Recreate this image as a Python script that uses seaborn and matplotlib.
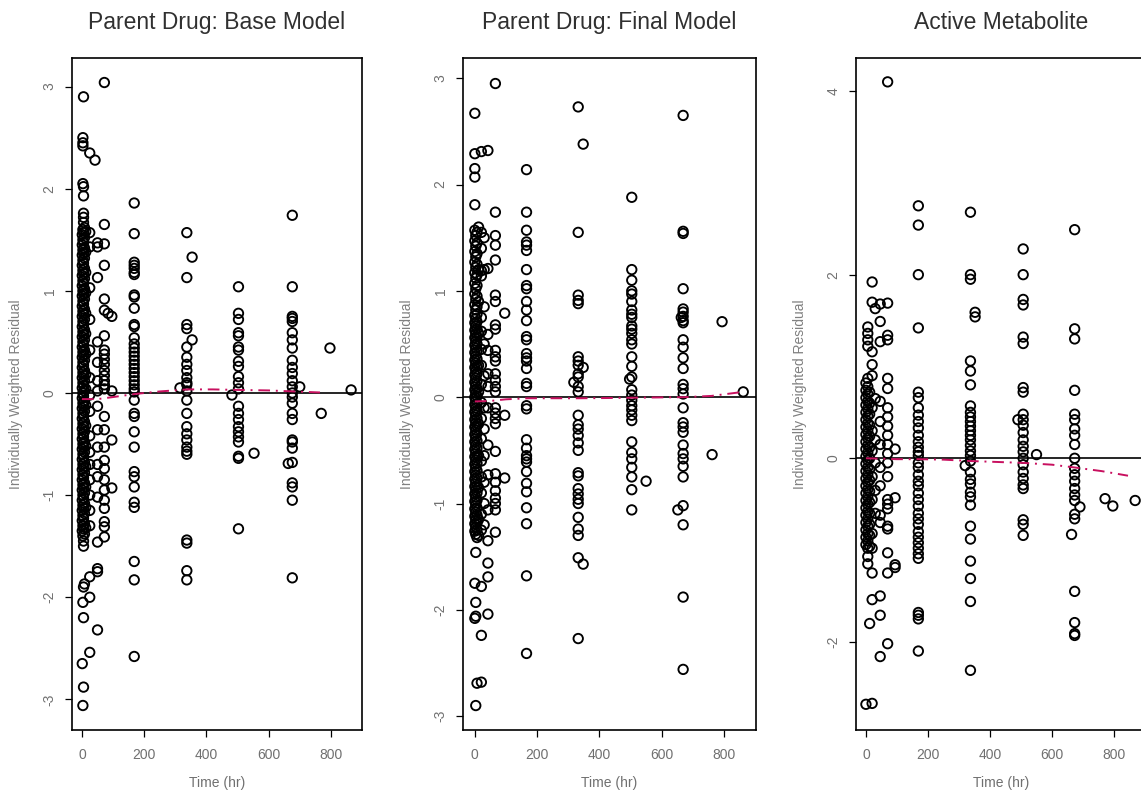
import pandas as pd
import matplotlib
matplotlib.use("Agg")
import matplotlib.pyplot as plt
import seaborn as sns

# columns of points: (time in hr, residuals)
base_cols = [
    (1, [1.55, 1.45, 1.35, 1.25, 1.15, 1.05, 0.95, 0.85, 0.75, 0.65, 0.55, 0.45, 0.35, 0.25, 0.15, 0.05,
         -0.05, -0.15, -0.25, -0.35, -0.45, -0.55, -0.65, -0.75, -0.85, -0.95, -1.05, -1.15, -1.25, -1.35, -2.65]),
    (3, [2.50, 2.45, 2.42, 2.05, 1.6, 1.5, 1.4, 1.3, 1.2, 1.1, 1.0, 0.9, 0.8, 0.7, 0.6, 0.5, 0.4, 0.3, 0.2, 0.1, 0.0,
         -0.1, -0.2, -0.3, -0.4, -0.5, -0.6, -0.7, -0.8, -0.9, -1.0, -1.1, -1.2, -1.3, -1.4, -2.05, -3.06]),
    (5, [2.90, 2.02, 1.93, 1.76, 1.72, 1.67, 1.57, 1.47, 1.37, 1.27, 1.17, 1.07, 0.97, 0.87, 0.77, 0.67, 0.57, 0.47,
         0.37, 0.27, 0.17, 0.07, -0.03, -0.13, -0.23, -0.33, -0.43, -0.53, -0.63, -0.73, -0.83, -0.93, -1.03, -1.13,
         -1.23, -1.33, -1.45, -1.5, -1.9, -2.2, -2.88]),
    (8, [1.62, 1.52, 1.42, 1.32, 1.22, 1.12, 1.02, 0.92, 0.82, 0.72, 0.62, 0.52, 0.42, 0.32, 0.22, 0.12, 0.02,
         -0.08, -0.18, -0.28, -0.38, -0.48, -0.58, -0.68, -0.78, -0.88, -0.98, -1.08, -1.18, -1.28, -1.38, -1.87]),
    (12, [1.58, 1.38, 1.18, 0.98, 0.78, 0.58, 0.38, 0.18, 0.04, -0.12, -0.32, -0.52, -0.72, -0.92, -1.12, -1.32]),
    (25, [2.35, 1.57, 1.43, 1.03, 0.72, 0.42, 0.15, -0.02, -0.18, -0.42, -0.58, -0.7, -0.85, -1.0, -1.15, -1.3,
          -1.8, -2.0, -2.54]),
    (42, [2.28]),
    (50, [1.47, 1.43, 1.13, 0.5, 0.3, 0.12, 0.02, -0.13, -0.36, -0.53, -0.7, -0.82, -1.02, -1.46, -1.72, -1.75, -2.32]),
    (72, [3.04, 1.65, 1.46, 1.25, 0.92, 0.81, 0.56, 0.42, 0.38, 0.33, 0.28, 0.22, 0.17, 0.12, 0.08, 0.04,
          -0.23, -0.36, -0.53, -0.66, -0.74, -0.85, -0.95, -1.05, -1.13, -1.26, -1.31, -1.41]),
    (84, [0.78]),
    (96, [0.75, 0.02, -0.46, -0.93]),
    (168, [1.86, 1.56, 1.28, 1.25, 1.22, 1.18, 1.16, 0.96, 0.94, 0.83, 0.67, 0.65, 0.54, 0.48, 0.44, 0.40, 0.36,
           0.32, 0.28, 0.24, 0.20, 0.16, 0.12, 0.08, 0.04, 0.01, -0.07, -0.2, -0.23, -0.38, -0.53, -0.77, -0.82,
           -0.92, -1.07, -1.12, -1.65, -1.83, -2.58]),
    (315, [0.05]),
    (337, [1.57, 1.13, 0.67, 0.63, 0.45, 0.35, 0.28, 0.22, 0.15, 0.1, 0.08, 0.02, -0.07, -0.2, -0.33, -0.4, -0.46,
           -0.53, -0.57, -0.6, -1.44, -1.47, -1.74, -1.83]),
    (354, [1.33, 0.52]),
    (482, [-0.02]),
    (503, [1.04, 0.78, 0.72, 0.59, 0.56, 0.45, 0.42, 0.31, 0.26, 0.16, 0.1, 0.04, -0.13, -0.2, -0.26, -0.33, -0.38,
           -0.43, -0.48, -0.62, -0.64, -1.33]),
    (553, [-0.59]),
    (663, [-0.69]),
    (676, [1.74, 1.04, 0.75, 0.73, 0.7, 0.59, 0.52, 0.44, 0.32, 0.25, 0.19, 0.12, 0.06, 0.0, -0.04, -0.1, -0.2,
           -0.26, -0.46, -0.48, -0.54, -0.68, -0.88, -0.92, -1.05, -1.81]),
    (700, [0.06]),
    (769, [-0.2]),
    (797, [0.44]),
    (865, [0.03]),
]

final_cols = [
    (0, [2.67, 2.29, 2.15, 2.07, 1.81, 1.57, 1.47, 1.37, 1.27, 1.17, 1.07, 0.97, 0.87, 0.77, 0.7, 0.63, 0.56, 0.49,
         0.42, 0.35, 0.28, 0.21, 0.14, 0.07, 0.0, -0.07, -0.14, -0.21, -0.28, -0.35, -0.42, -0.49, -0.56, -0.63,
         -0.7, -0.77, -0.84, -0.91, -0.98, -1.05, -1.12, -1.19, -1.26, -1.75, -2.08]),
    (3, [1.52, 1.42, 1.32, 1.22, 1.12, 1.02, 0.92, 0.82, 0.74, 0.67, 0.6, 0.53, 0.46, 0.39, 0.32, 0.25, 0.18, 0.11,
         0.04, -0.03, -0.1, -0.17, -0.24, -0.31, -0.38, -0.45, -0.52, -0.59, -0.66, -0.73, -0.8, -0.87, -0.94,
         -1.01, -1.08, -1.15, -1.22, -1.29, -1.46, -1.93, -2.06, -2.9]),
    (7, [1.55, 1.45, 1.35, 1.25, 1.15, 1.05, 0.95, 0.85, 0.78, 0.71, 0.64, 0.57, 0.5, 0.43, 0.36, 0.29, 0.22, 0.15,
         0.08, 0.01, -0.06, -0.13, -0.2, -0.27, -0.34, -0.41, -0.48, -0.55, -0.62, -0.69, -0.76, -0.83, -0.9,
         -0.97, -1.04, -1.11, -1.18, -1.25, -1.32, -2.69]),
    (12, [1.6, 1.2, 0.9, 0.6, 0.3, 0.05, -0.25, -0.55, -0.85, -1.15, -1.3]),
    (21, [2.31, 1.55, 1.4, 1.19, 1.14, 0.75, 0.62, 0.45, 0.3, 0.12, -0.05, -0.2, -0.39, -0.6, -0.75, -0.9, -1.1,
          -1.25, -1.78, -2.24, -2.68]),
    (30, [1.5, 1.2, 0.85, 0.5, 0.2, -0.1, -0.3, -0.55, -0.8, -1.0, -1.2]),
    (42, [2.32, 1.21, 0.59, 0.44, 0.22, 0.1, -0.1, -0.45, -0.73, -1.06, -1.35, -1.56, -1.69, -2.04]),
    (66, [2.95, 1.74, 1.52, 1.43, 1.29, 0.96, 0.9, 0.68, 0.64, 0.44, 0.38, 0.34, 0.22, 0.16, 0.1, 0.05, -0.1,
          -0.15, -0.2, -0.25, -0.51, -0.72, -0.8, -0.88, -0.95, -1.0, -1.06, -1.27]),
    (96, [0.79, -0.17, -0.76]),
    (166, [2.14, 1.74, 1.57, 1.46, 1.43, 1.38, 1.2, 1.05, 1.02, 0.9, 0.82, 0.72, 0.57, 0.54, 0.41, 0.37, 0.34,
           0.27, 0.13, 0.1, -0.08, -0.11, -0.4, -0.48, -0.55, -0.58, -0.61, -0.7, -0.81, -0.89, -1.04, -1.19,
           -1.68, -2.41]),
    (318, [0.14]),
    (332, [2.73, 1.55, 0.96, 0.91, 0.88, 0.38, 0.34, 0.3, 0.22, 0.19, 0.1, 0.05, -0.17, -0.26, -0.3, -0.36, -0.43,
           -0.5, -0.71, -0.74, -0.86, -0.91, -0.96, -1.0, -1.13, -1.24, -1.3, -1.51, -2.27]),
    (348, [2.38, 0.28, -1.57]),
    (497, [0.17]),
    (504, [1.88, 1.2, 1.1, 1.0, 0.97, 0.9, 0.82, 0.78, 0.75, 0.67, 0.64, 0.6, 0.54, 0.5, 0.38, 0.29, 0.19, 0.07,
           0.02, -0.03, -0.08, -0.12, -0.17, -0.22, -0.42, -0.52, -0.58, -0.66, -0.75, -0.87, -1.06]),
    (550, [-0.79]),
    (652, [-1.06]),
    (663, [0.75]),
    (669, [2.65, 1.56, 1.54, 1.02, 0.83, 0.8, 0.76, 0.72, 0.7, 0.54, 0.47, 0.37, 0.27, 0.12, 0.08, 0.03, -0.1,
           -0.24, -0.28, -0.33, -0.45, -0.53, -0.58, -0.65, -0.75, -1.02, -1.2, -1.88, -2.56]),
    (762, [-0.54]),
    (794, [0.71]),
    (862, [0.05]),
]

metab_cols = [
    (0, [0.82, 0.74, 0.66, 0.58, 0.5, 0.42, 0.34, 0.26, 0.18, 0.1, 0.02, -0.06, -0.14, -0.22, -0.3, -0.38, -0.46,
         -0.54, -0.62, -0.7, -0.78, -0.86, -0.94, -2.68]),
    (6, [1.43, 1.36, 1.29, 1.22, 0.87, 0.78, 0.7, 0.62, 0.54, 0.46, 0.38, 0.3, 0.22, 0.14, 0.06, -0.02, -0.1,
         -0.18, -0.26, -0.34, -0.42, -0.5, -0.58, -0.66, -0.74, -0.82, -0.9, -0.98, -1.07, -1.15]),
    (12, [0.72, 0.6, 0.48, 0.36, 0.24, 0.12, 0.0, -0.12, -0.24, -0.36, -0.48, -0.6, -0.72, -0.84, -0.96, -1.8]),
    (20, [1.92, 1.7, 1.16, 1.02, 0.9, 0.55, 0.3, 0.08, -0.2, -0.45, -0.82, -0.98, -1.25, -1.54, -2.67]),
    (30, [1.63, 0.65, 0.2, -0.05, -0.35, -0.6]),
    (46, [1.68, 1.49, 1.27, 0.62, 0.4, 0.15, -0.1, -0.3, -0.62, -0.7, -1.5, -1.71, -2.16]),
    (70, [4.1, 1.69, 1.34, 1.29, 0.87, 0.76, 0.55, 0.45, 0.35, 0.25, 0.15, 0.05, -0.05, -0.2, -0.45, -0.5, -0.55,
          -0.74, -0.77, -1.03, -1.25, -2.02]),
    (94, [0.1, -0.43, -1.16, -1.19]),
    (169, [2.75, 2.54, 2.0, 1.42, 0.72, 0.66, 0.55, 0.47, 0.4, 0.33, 0.25, 0.18, 0.12, 0.07, 0.03, -0.05, -0.1,
           -0.18, -0.25, -0.3, -0.38, -0.45, -0.52, -0.6, -0.66, -0.72, -0.8, -0.86, -0.92, -0.98, -1.04, -1.09,
           -1.68, -1.71, -1.75, -2.1]),
    (320, [-0.08]),
    (337, [2.68, 2.0, 1.95, 1.06, 0.95, 0.8, 0.57, 0.5, 0.45, 0.4, 0.35, 0.3, 0.25, 0.2, 0.14, 0.08, 0.03, -0.03,
           -0.15, -0.23, -0.28, -0.37, -0.42, -0.51, -0.74, -0.88, -1.12, -1.31, -1.56, -2.31]),
    (352, [1.59, 1.54]),
    (490, [0.42]),
    (507, [2.28, 2.0, 1.73, 1.67, 1.32, 1.25, 0.77, 0.72, 0.48, 0.42, 0.36, 0.28, 0.2, 0.13, 0.07, 0.0, -0.07,
           -0.15, -0.22, -0.29, -0.33, -0.67, -0.72, -0.84]),
    (550, [0.04]),
    (663, [-0.83]),
    (673, [2.49, 1.41, 1.3, 0.74, 0.48, 0.42, 0.32, 0.25, 0.15, 0.0, -0.11, -0.18, -0.25, -0.33, -0.4, -0.46,
           -0.61, -0.66, -1.45, -1.79, -1.91, -1.93]),
    (690, [-0.53]),
    (771, [-0.44]),
    (796, [-0.52]),
    (868, [-0.46]),
]

# smoother (red dash-dot)
base_smooth_time = [0, 50, 100, 170, 250, 340, 420, 500, 600, 680, 765]
base_smooth_iwres = [-0.06, -0.06, -0.04, -0.01, 0.015, 0.035, 0.035, 0.03, 0.025, 0.015, 0.005]
final_smooth_time = [0, 50, 100, 170, 250, 336, 420, 504, 600, 672, 760, 862]
final_smooth_iwres = [-0.04, -0.035, -0.02, -0.01, -0.01, -0.01, -0.008, -0.005, -0.002, 0.0, 0.012, 0.05]
metab_smooth_time = [0, 50, 100, 170, 250, 336, 420, 504, 600, 672, 760, 845]
metab_smooth_iwres = [0.0, -0.005, -0.01, -0.01, -0.015, -0.03, -0.04, -0.05, -0.07, -0.1, -0.14, -0.19]

titles = ["Parent Drug: Base Model", "Parent Drug: Final Model", "Active Metabolite"]
x_ticks = [0, 200, 400, 600, 800]


def to_frame(cols):
    t, r = [], []
    for time, vals in cols:
        t += [time] * len(vals)
        r += vals
    return pd.DataFrame({"time": t, "iwres": r})


sns.set_theme(style="ticks")
plt.rcParams['font.family'] = ['Liberation Sans', 'DejaVu Sans']

W, H = 1141, 794
fig = plt.figure(figsize=(W / 100, H / 100), dpi=100)

# (left px, width px, xlim, ylim, yticks)
panels = [
    (base_cols, base_smooth_time, base_smooth_iwres, 72, 290, (-32, 900), (-3.30, 3.28), [-3, -2, -1, 0, 1, 2, 3]),
    (final_cols, final_smooth_time, final_smooth_iwres, 463, 293, (-38, 903), (-3.13, 3.19), [-3, -2, -1, 0, 1, 2, 3]),
    (metab_cols, metab_smooth_time, metab_smooth_iwres, 856, 290, (-32, 903), (-2.96, 4.36), [-2, 0, 2, 4]),
]

top_px, bot_px = 58, 730
for i, (cols, st, sr, left, width, xlim, ylim, yticks) in enumerate(panels):
    ax = fig.add_axes([left / W, 1 - bot_px / H, width / W, (bot_px - top_px) / H])
    df = to_frame(cols)
    sns.scatterplot(data=df, x="time", y="iwres", ax=ax, marker="o", s=46,
                    facecolors="none", edgecolor="black", linewidth=1.35, zorder=2)
    ax.axhline(0, color="black", lw=1.2, zorder=3)
    sm = pd.DataFrame({"time": st, "iwres": sr})
    sns.lineplot(data=sm, x="time", y="iwres", ax=ax, color="#c8105f", lw=1.4,
                 linestyle=(0, (6, 3, 1, 3)), estimator=None, sort=False, zorder=4)

    ax.set_xlim(*xlim)
    ax.set_ylim(*ylim)
    ax.set_xticks(x_ticks)
    ax.set_yticks(yticks)
    ax.set_xticklabels([str(v) for v in x_ticks])
    ax.set_yticklabels([str(v) for v in yticks], rotation=90, va="center")

    for sp in ax.spines.values():
        sp.set_visible(True)
        sp.set_color("black")
        sp.set_linewidth(1.2)
    ax.tick_params(direction="out", length=5, width=0.9, color="black",
                   labelcolor="#707070", labelsize=10)
    ax.tick_params(axis="x", pad=8)
    ax.tick_params(axis="y", pad=6)

    ax.set_xlabel("Time (hr)", fontsize=10, color="#707070")
    ax.set_ylabel("Individually Weighted Residual", fontsize=10, color="#808080")
    ax.xaxis.set_label_coords(0.5, -53 / (bot_px - top_px))
    ax.xaxis.label.set_va("center")
    ax.yaxis.set_label_coords(-56 / width, 0.5)
    ax.yaxis.label.set_va("center")

    ax.set_title(titles[i], fontsize=16.5, color="#303030", pad=21)

fig.savefig("out.png", dpi=100)
